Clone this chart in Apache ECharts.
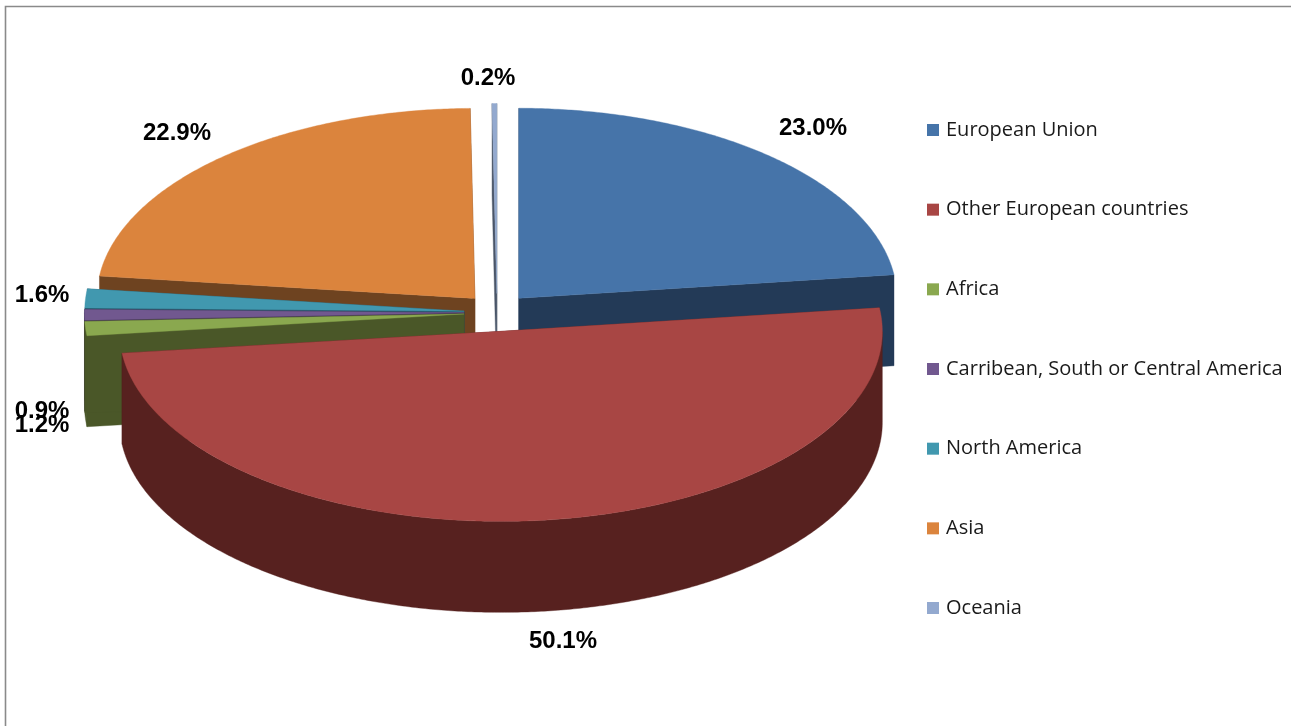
<!DOCTYPE html>
<html>
<head>
<meta charset="utf-8">
<style>html,body{margin:0;padding:0;background:#fff}#c{width:1291px;height:726px}</style>
<script src="https://cdn.jsdelivr.net/npm/echarts@6/dist/echarts.min.js"></script>
</head>
<body>
<div id="c"></div>
<script>
// ---- data ----
const categories = ['European Union','Other European countries','Africa','Carribean, South or Central America','North America','Asia','Oceania'];
const shares = [23.0, 50.1, 1.2, 0.9, 1.6, 22.9, 0.2];

// ---- styling / layout ----
const topColors  = ['#4674A9','#A84644','#8AA84F','#71588F','#4198AF','#DB843D','#93A9CF'];
const sideColors = ['#233A57','#57211F','#4A5728','#3C2F4D','#25566A','#6E4320','#4A5568'];
const paintOrder = [4, 8, 7, 6, 5, 3, 2];
const labelAnchors = [[813,128],[563,641],[42,425],[42,411],[42,295],[177,133],[488,78]];
const pie = {cx:497, cy:312.5, rx:379.5, ry:190, depth:91, explodeX:33, explodeY:19, perspective:0.1};

const total = shares.reduce((a,b)=>a+b,0);
const rad = d => d*Math.PI/180;
let run = 0;
const spans = shares.map(v => { const a0 = run/total*360; run += v; return [a0, run/total*360]; });

function pt(c, deg, dy){
  const rx = pie.rx + (c[1]-pie.cy)*pie.perspective;
  return [c[0]+rx*Math.sin(rad(deg)), c[1]-pie.ry*Math.cos(rad(deg))+(dy||0)];
}
function arc(c, a0, a1, dy){
  const out=[], n=Math.max(2,Math.ceil((a1-a0)*2));
  for(let k=0;k<=n;k++) out.push(pt(c,a0+(a1-a0)*k/n,dy));
  return out;
}
function poly(points, fill){ return {type:'polygon', shape:{points}, style:{fill, stroke:fill, lineWidth:0.4}}; }

function renderSlice(i){
  const [a0,a1]=spans[i], mid=(a0+a1)/2;
  const c=[pie.cx+pie.explodeX*Math.sin(rad(mid)), pie.cy-pie.explodeY*Math.cos(rad(mid))];
  const side=sideColors[i], d=pie.depth, kids=[];
  // cut faces
  [a0,a1].forEach(a=>{
    const p=pt(c,a);
    kids.push(poly([c,p,[p[0],p[1]+d],[c[0],c[1]+d]],side));
  });
  // outer wall (front-facing part only)
  const w0=Math.max(a0,90), w1=Math.min(a1,270);
  if(w1>w0){
    kids.push(poly(arc(c,w0,w1,0).concat(arc(c,w0,w1,d).reverse()),side));
  }
  // top
  kids.push(poly([c].concat(arc(c,a0,a1,0)),topColors[i]));
  // label
  kids.push({type:'text', z2:50, style:{
    x:labelAnchors[i][0], y:labelAnchors[i][1], text:shares[i].toFixed(1)+'%',
    fill:'#000', align:'center', verticalAlign:'middle',
    font:'bold 24px "Liberation Sans", sans-serif'
  }});
  return {type:'group', children:kids};
}

const chart = echarts.init(document.getElementById('c'), null, {renderer:'canvas'});
chart.setOption({
  animation:false,
  backgroundColor:'#fff',
  graphic:[{type:'rect', silent:true, shape:{x:5.5,y:6.5,width:1500,height:900},
    style:{fill:'none', stroke:'#8A8A8A', lineWidth:1.6}}],
  legend:{
    orient:'vertical', left:922, top:115, itemWidth:12, itemHeight:12, itemGap:59.67,
    icon:'rect', data:categories, selectedMode:false,
    textStyle:{fontFamily:'"Open Sans", sans-serif', fontSize:20, color:'#1a1a1a', padding:[0,0,0,2]}
  },
  series: categories.map((name,i)=>({
    type:'custom', name, coordinateSystem:'none', z:paintOrder[i], silent:true,
    itemStyle:{color:topColors[i]},
    data:[shares[i]],
    renderItem:()=>renderSlice(i)
  }))
});
</script>
</body>
</html>
